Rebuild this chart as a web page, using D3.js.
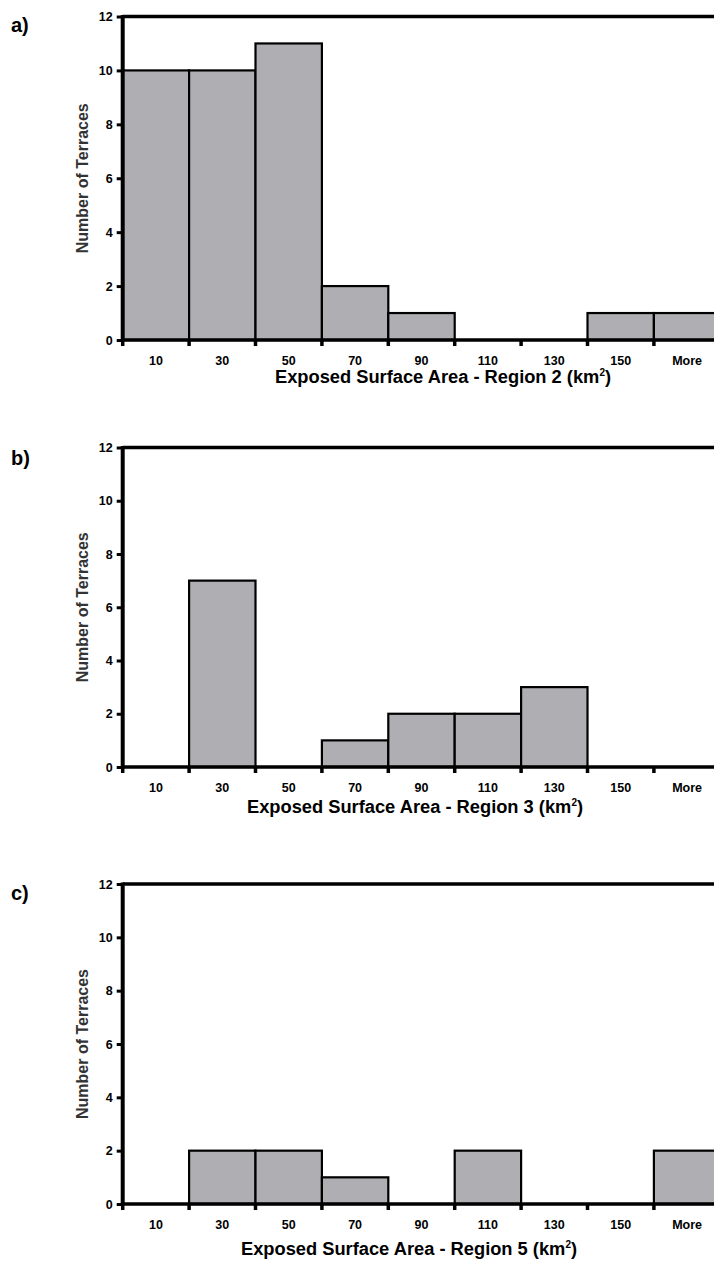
<head>
    <script src="https://d3js.org/d3.v7.min.js"></script>
    <style>
        body { margin: 0; background: #fff; }
        svg { display: block; font-family: "Liberation Sans", Arial, sans-serif; }
    </style>
</head>

<body>
    <div id="graph"></div>
</body>
<script>

    // bin labels and counts
    const bins = ['10', '30', '50', '70', '90', '110', '130', '150', 'More']
    const region2 = [10, 10, 11, 2, 1, 0, 0, 1, 1]
    const region3 = [0, 7, 0, 1, 2, 2, 3, 0, 0]
    const region5 = [0, 2, 2, 1, 0, 2, 0, 0, 2]
    const yTicks = [0, 2, 4, 6, 8, 10, 12]

    const panels = [
        { tag: 'a)', region: '2', counts: region2, top: 16.5, base: 340, tagY: 32, titleX: 443, titleY: 383 },
        { tag: 'b)', region: '3', counts: region3, top: 447.5, base: 767, tagY: 465, titleX: 415, titleY: 813 },
        { tag: 'c)', region: '5', counts: region5, top: 884, base: 1204, tagY: 900, titleX: 409, titleY: 1255 }
    ]

    const svg = d3.select('#graph').append('svg')
        .attr('width', 714)
        .attr('height', 1262)

    const xScale = d3.scaleBand()
        .domain(bins)
        .range([122.7, 122.7 + 9 * 66.4])
        .padding(0)

    let drawPanel = (p) => {
        const g = svg.append('g')

        const yScale = d3.scaleLinear()
            .domain([0, 12])
            .range([p.base, p.top])

        g.append('text')
            .attr('x', 11)
            .attr('y', p.tagY)
            .style('font-size', '20px')
            .style('font-weight', 'bold')
            .text(p.tag)

        // bars
        g.selectAll('rect.bar')
            .data(p.counts)
            .enter()
            .append('rect')
            .attr('class', 'bar')
            .attr('x', (d, i) => xScale(bins[i]))
            .attr('y', d => yScale(d))
            .attr('width', xScale.bandwidth())
            .attr('height', d => p.base - yScale(d))
            .attr('fill', '#afaeb3')
            .attr('stroke', '#000')
            .attr('stroke-width', 2.2)

        // top frame line at 12
        g.append('line')
            .attr('x1', xScale.range()[0])
            .attr('x2', 714)
            .attr('y1', yScale(12))
            .attr('y2', yScale(12))
            .attr('stroke', '#000')
            .attr('stroke-width', 3.5)

        // y axis
        const yAxis = g.append('g')
            .attr('transform', `translate(${xScale.range()[0]},0)`)
            .call(d3.axisLeft(yScale).tickValues(yTicks).tickSize(6).tickPadding(4))
        yAxis.select('.domain').attr('stroke-width', 4).attr('d', `M0,${p.top - 1.5}V${p.base + 1.5}`)
        yAxis.selectAll('.tick line').attr('stroke-width', 3)
        yAxis.selectAll('.tick text')
            .style('font-size', '12.5px')
            .style('font-weight', 'bold')
            .attr('fill', '#000')

        // x axis: ticks at the bin edges, labels centred in bins
        const edges = bins.map(b => xScale(b)).concat([xScale.range()[1]])
        g.append('line')
            .attr('x1', xScale.range()[0])
            .attr('x2', 714)
            .attr('y1', p.base)
            .attr('y2', p.base)
            .attr('stroke', '#000')
            .attr('stroke-width', 3.5)
        g.selectAll('line.xtick')
            .data(edges)
            .enter()
            .append('line')
            .attr('class', 'xtick')
            .attr('x1', d => d)
            .attr('x2', d => d)
            .attr('y1', p.base)
            .attr('y2', p.base + 6)
            .attr('stroke', '#000')
            .attr('stroke-width', 3.5)
        g.selectAll('text.xlab')
            .data(bins)
            .enter()
            .append('text')
            .attr('class', 'xlab')
            .attr('x', d => xScale(d) + xScale.bandwidth() / 2)
            .attr('y', p.base + 25)
            .attr('text-anchor', 'middle')
            .style('font-size', '12.5px')
            .style('font-weight', 'bold')
            .text(d => d)

        // axis titles
        const title = g.append('text')
            .attr('x', p.titleX)
            .attr('y', p.titleY)
            .attr('text-anchor', 'middle')
            .style('font-size', '18.3px')
            .style('font-weight', 'bold')
            .text(`Exposed Surface Area - Region ${p.region} (km`)
        title.append('tspan')
            .attr('dy', -7)
            .style('font-size', '10px')
            .text('2')
        title.append('tspan')
            .attr('dy', 7)
            .text(')')

        g.append('text')
            .attr('transform', `translate(88,${(p.top + p.base) / 2}) rotate(-90)`)
            .attr('text-anchor', 'middle')
            .style('font-size', '16px')
            .style('font-weight', 'bold')
            .attr('fill', '#333')
            .text('Number of Terraces')
    }

    panels.forEach(p => drawPanel(p))

</script>
